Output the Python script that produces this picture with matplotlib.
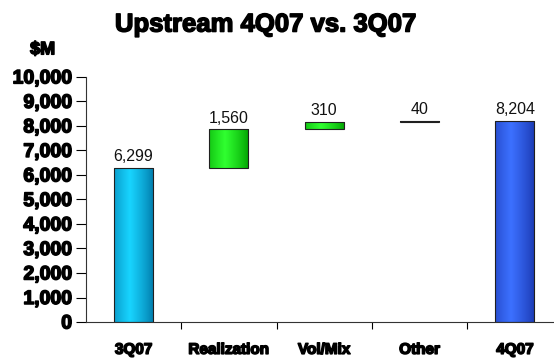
import numpy as np
import matplotlib.pyplot as plt
import matplotlib.patheffects as pe
from matplotlib.colors import LinearSegmentedColormap

plt.rcParams['font.family'] = ['Liberation Sans', 'DejaVu Sans']

categories = ['3Q07', 'Realization', 'Vol/Mix', 'Other', '4Q07']
values = [6299, 1560, 310, 40, 8204]
is_total = [True, False, False, False, True]
value_labels = ['6,299', '1,560', '310', '40', '8,204']

# gradient colours per bar: (edge, centre)
bar_colors = [('#0078a8', '#18d4ff'),
              ('#00a000', '#30ff30'),
              ('#00a000', '#30ff30'),
              ('#000000', '#000000'),
              ('#1a38b0', '#3c70ff')]

# heavier strokes for the bold text
heavy = [pe.withStroke(linewidth=1.1, foreground='black')]

# bottoms of the waterfall steps
bottoms = []
running = 0
for v, tot in zip(values, is_total):
    if tot:
        bottoms.append(0)
        running = v
    else:
        bottoms.append(running)
        running += v

fig = plt.figure(figsize=(5.54, 3.61), dpi=100)
ax = fig.add_axes([0.155, 0.108, 0.845, 0.679])

x = np.arange(len(categories))
width = 0.41
bars = ax.bar(x, values, width, bottom=bottoms, color='none',
              edgecolor='#202020', linewidth=0.8, zorder=3)

# cylinder-like horizontal shading inside each bar
t = np.linspace(0, 1, 64)
shade = np.clip(1 - np.abs(t - 0.4) / 0.6, 0, 1) ** 0.8
for b, (c0, c1) in zip(bars, bar_colors):
    cmap = LinearSegmentedColormap.from_list('s', [c0, c1])
    x0, y0 = b.get_x(), b.get_y()
    im = ax.imshow(shade[np.newaxis, :], cmap=cmap, aspect='auto',
                   extent=[x0, x0 + b.get_width(), y0, y0 + b.get_height()],
                   vmin=0, vmax=1, zorder=2)
    im.set_clip_path(b)

for xi, b, lab in zip(x, bars, value_labels):
    ax.text(xi, b.get_y() + b.get_height() + 150, lab, ha='center', va='bottom',
            fontsize=11.5, color='#111111')

ax.set_xlim(-0.5, 4.41)
ax.set_ylim(0, 10000)
ax.set_yticks(np.arange(0, 10001, 1000))
ylabs = ax.set_yticklabels([f'{v:,}' for v in range(0, 10001, 1000)],
                           fontsize=14, fontweight='bold')
ax.set_xticks(np.arange(0.5, 4, 1))
ax.set_xticks(x, minor=True)
ax.set_xticklabels([])
xlabs = ax.set_xticklabels(categories, minor=True, fontsize=11, fontweight='bold')
for lab in list(ylabs) + list(xlabs):
    lab.set_path_effects(heavy)
ax.tick_params(axis='x', which='minor', length=0, pad=15)
ax.tick_params(axis='x', which='major', length=5, direction='out')
ax.tick_params(axis='y', length=7, direction='out', pad=3)

for s in ['top', 'right']:
    ax.spines[s].set_visible(False)
ax.spines['left'].set_color('#333333')
ax.spines['bottom'].set_color('#333333')

fig.text(0.48, 0.932, 'Upstream 4Q07 vs. 3Q07', ha='center', va='center',
         fontsize=18.5, fontweight='bold', path_effects=heavy)
fig.text(0.077, 0.862, '$M', ha='center', va='center',
         fontsize=13, fontweight='bold', path_effects=heavy)

fig.savefig('out.png', dpi=100)
